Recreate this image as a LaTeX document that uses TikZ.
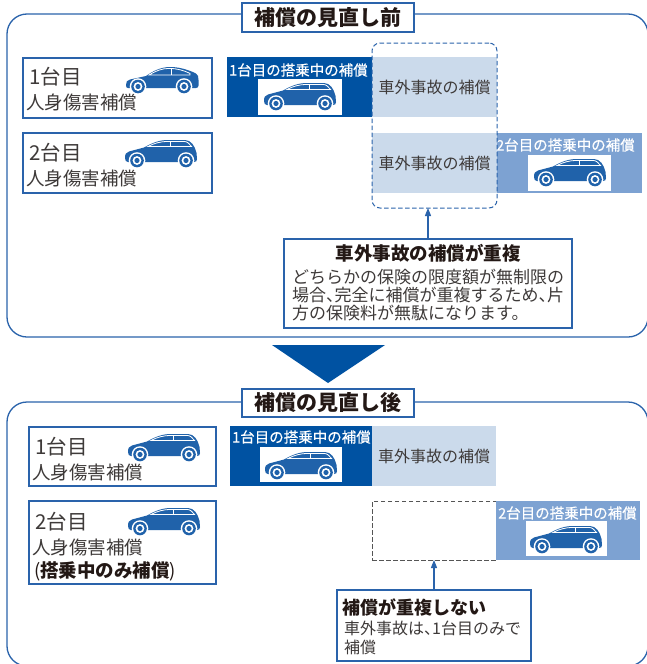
\documentclass[tikz,border=0pt]{standalone}
\usepackage{fontspec}
\setmainfont{Noto Sans CJK JP}
\newfontfamily\jpmed{Noto Sans CJK JP}[FakeBold=0.35]
\usetikzlibrary{arrows.meta}
\definecolor{dblue}{HTML}{0052A2}
\definecolor{lblue}{HTML}{CBDAEB}
\definecolor{mblue}{HTML}{7DA2D2}
\definecolor{lineblue}{HTML}{2A63AB}
\definecolor{carblue}{HTML}{2062AA}
\definecolor{txt}{HTML}{3E3A39}
\definecolor{ttl}{HTML}{231815}
\definecolor{dgray}{HTML}{555555}
\newcommand\fz[1]{\fontsize{#1}{#1}\selectfont}
\newcommand\tkt{、\kern-0.5em}
\tikzset{
  box/.style={rectangle, inner sep=0pt, outer sep=0pt},
  carbox/.style={box, draw=lineblue, line width=1.1pt, fill=white},
  darkbox/.style={box, fill=dblue},
  lightbox/.style={box, fill=lblue, text=txt, font=\fz{16}},
  midbox/.style={box, fill=mblue},
  innerw/.style={box, fill=white},
  titlebox/.style={box, draw=lineblue, line width=1.3pt, fill=white, text=ttl, font=\fz{21}\bfseries},
  infobox/.style={box, draw=lineblue, line width=1.1pt, fill=white},
  dashblue/.style={box, draw=lineblue, line width=1pt, dash pattern=on 4.5pt off 2.5pt, rounded corners=8pt},
  dashgray/.style={box, draw=dgray, line width=1pt, dash pattern=on 4.5pt off 2.5pt},
  frame/.style={draw=lineblue, line width=1.3pt, rounded corners=20pt},
  tx/.style={text=txt, inner sep=0pt, anchor=west},
  wt/.style={text=white, inner sep=0pt, anchor=west, font=\jpmed\fz{14.5}},
  upar/.style={draw=lineblue, line width=1.1pt, -{Triangle[width=6pt,length=8pt]}},
  wheel/.pic={
    \fill[white] (0,0) circle (8.3pt);
    \fill[carblue] (0,0) circle (6.8pt);
    \fill[white] (0,0) circle (4.4pt);
    \fill[carblue] (0,0) circle (2.6pt);
  },
  hatch/.pic={
    \fill[carblue] (0,-9) .. controls (0,-13) and (1,-14.5) .. (4,-15.5) -- (19,-19.5)
      .. controls (27,-24) and (34,-27) .. (43,-27) -- (60,-27)
      .. controls (66,-27) and (70,-21) .. (71.5,-14) -- (72,-8)
      .. controls (72,-6) and (71,-5) .. (69,-5) -- (3,-5)
      .. controls (1,-5) and (0,-6.5) .. (0,-9) -- cycle;
    \draw[white, line width=0.8pt] (23,-20.5) .. controls (29,-23.8) and (36,-25.6) .. (43,-25.6) -- (59,-25.6)
      .. controls (62,-25.6) and (65,-23) .. (66.5,-20.5) -- cycle;
    \draw[white, line width=0.8pt] (45,-25.6) -- (45,-20.5);
    \pic at (12,-6.5) {wheel};
    \pic at (61,-6.5) {wheel};
  },
  sedan/.pic={
    \fill[carblue] (0,-8) .. controls (0,-11) and (1,-13) .. (4,-13.5) -- (20,-17)
      .. controls (27,-22) and (34,-25.5) .. (43,-26)
      .. controls (52,-26.3) and (62,-23.5) .. (70,-19.5)
      .. controls (72,-18.5) and (72.5,-16) .. (72.5,-13) -- (72.5,-7.5)
      .. controls (72.5,-6) and (71.5,-5) .. (70,-5) -- (2,-5)
      .. controls (0.5,-5) and (0,-6) .. (0,-8) -- cycle;
    \draw[white, line width=0.8pt] (23,-18) .. controls (30,-22.3) and (36,-24.5) .. (43,-24.6)
      .. controls (51,-24.6) and (58,-22.5) .. (64,-19.6) -- (64,-18) -- cycle;
    \draw[white, line width=0.8pt] (45,-24.6) -- (45,-18);
    \pic at (12,-6.5) {wheel};
    \pic at (58,-6.5) {wheel};
  },
}
\begin{document}
\begin{tikzpicture}[x=1pt, y=-1pt]
\useasboundingbox (0,0) rectangle (646,664);

% ---------- before ----------
\draw[frame] (7,14) rectangle (648,337);
\node[titlebox, minimum width=172pt, minimum height=29pt] (title1) at (328,17.5) {補償の見直し前};

\node[carbox, minimum width=189pt, minimum height=60pt] (b1) at (117.5,88) {};
\node[tx, font=\fz{20.5}] (b1a) at (29,77) {1台目};
\node[tx, font=\fz{18.5}] (b1b) at (26,103) {人身傷害補償};
\pic at (126,93) {sedan};

\node[carbox, minimum width=189pt, minimum height=60pt] (b2) at (117.5,163) {};
\node[tx, font=\fz{20.5}] (b2a) at (29,153) {2台目};
\node[tx, font=\fz{18.5}] (b2b) at (26,179) {人身傷害補償};
\pic at (125,167) {hatch};

\node[darkbox, minimum width=145pt, minimum height=60pt] (d1) at (299.5,87) {};
\node[wt] (d1t) at (229,70) {1台目の搭乗中の補償};
\node[innerw, minimum width=84pt, minimum height=36pt] (w1) at (300,97) {};
\pic at (264,110) {hatch};

\node[lightbox, minimum width=125pt, minimum height=60pt] (l1) at (434.5,87) {車外事故の補償};
\node[lightbox, minimum width=125pt, minimum height=60pt] (l2) at (434.5,163) {車外事故の補償};

\node[midbox, minimum width=145pt, minimum height=60pt] (m1) at (569.5,163) {};
\node[wt] (m1t) at (496,145) {2台目の搭乗中の補償};
\node[innerw, minimum width=83pt, minimum height=36pt] (w2) at (569.5,173) {};
\pic at (534,186) {hatch};

\node[dashblue, minimum width=125pt, minimum height=165pt] (dash1) at (434.5,125.5) {};

\node[infobox, minimum width=288pt, minimum height=89pt] (info1) at (428,283.5) {};
\node[text=ttl, font=\fz{18.5}\bfseries] (info1t) at (428,253) {車外事故の補償が重複};
\node[tx, font=\fontsize{17}{18}\selectfont, align=left] (info1b) at (292,295)
  {どちらかの保険の限度額が無制限の\\場合\tkt 完全に補償が重複するため\tkt 片\\方の保険料が無駄になります。};
\draw[upar] (info1.north) -- (info1.north |- dash1.south);

\fill[dblue] (272,345) -- (385,345) -- (328,383) -- cycle;

% ---------- after ----------
\draw[frame] (7,402) rectangle (648,666);
\node[titlebox, minimum width=172pt, minimum height=28pt] (title2) at (328,403) {補償の見直し後};

\node[carbox, minimum width=187pt, minimum height=59pt] (c1) at (122.5,456.5) {};
\node[tx, font=\fz{20.5}] (c1a) at (35,447) {1台目};
\node[tx, font=\fz{18.5}] (c1b) at (32,473) {人身傷害補償};
\pic at (128,461) {hatch};

\node[carbox, minimum width=187pt, minimum height=83pt] (c2) at (122.5,542.5) {};
\node[tx, font=\fz{20.5}] (c2a) at (35,522) {2台目};
\node[tx, font=\fz{18.5}] (c2b) at (32,547) {人身傷害補償};
\node[text=ttl, inner sep=0pt, anchor=west, font=\fz{18.5}\bfseries] (c2c) at (34,571) {{\mdseries(}搭乗中のみ補償{\mdseries)}};
\pic at (128,535) {hatch};

\node[darkbox, minimum width=142pt, minimum height=60pt] (d2) at (301,456) {};
\node[wt] (d2t) at (232,437) {1台目の搭乗中の補償};
\node[innerw, minimum width=82pt, minimum height=35pt] (w3) at (301,464.5) {};
\pic at (265,479) {hatch};

\node[lightbox, minimum width=124pt, minimum height=60pt] (l3) at (434,456) {車外事故の補償};

\node[dashgray, minimum width=124pt, minimum height=59pt] (dash2) at (434,530.5) {};

\node[midbox, minimum width=144pt, minimum height=59pt] (m2) at (568,530.5) {};
\node[wt] (m2t) at (498,513) {2台目の搭乗中の補償};
\node[innerw, minimum width=81pt, minimum height=35pt] (w4) at (566.5,538.5) {};
\pic at (530,553) {hatch};

\node[infobox, minimum width=194pt, minimum height=71pt] (info2) at (434,625.5) {};
\node[text=ttl, inner sep=0pt, anchor=west, font=\fz{18}\bfseries] (info2t) at (342,607) {補償が重複しない};
\node[tx, font=\fontsize{16}{19}\selectfont, align=left] (info2b) at (344,637.5)
  {車外事故は\tkt 1台目のみで\\補償};
\draw[upar] (info2.north) -- (info2.north |- dash2.south);
\end{tikzpicture}
\end{document}
